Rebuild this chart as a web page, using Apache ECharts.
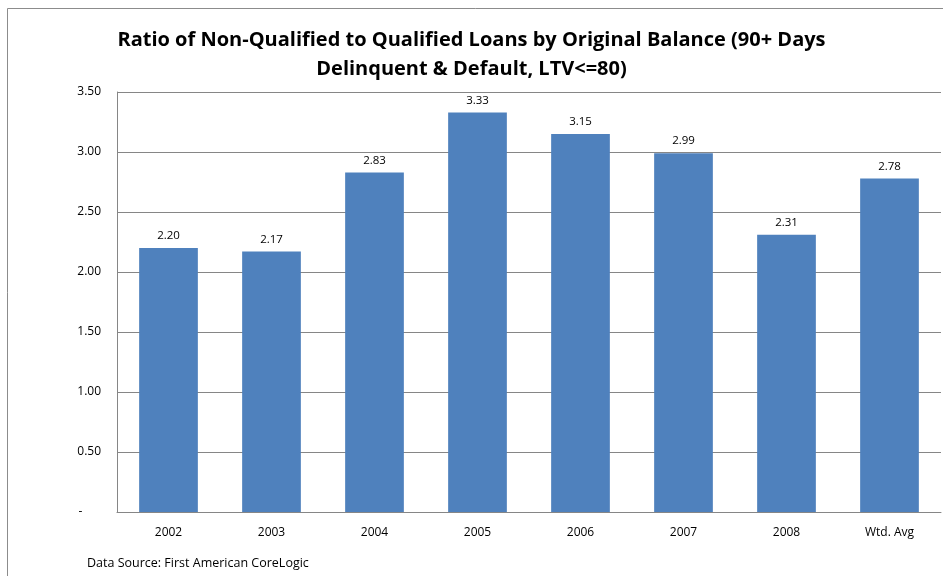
<!DOCTYPE html>
<html>
<head>
<meta charset="utf-8">
<script src="https://cdn.jsdelivr.net/npm/echarts@6/dist/echarts.min.js"></script>
<style>
  html, body { margin: 0; padding: 0; background: #fff; }
  #chart { width: 943px; height: 576px; }
</style>
</head>
<body>
<div id="chart"></div>
<script>
var categories = ["2002", "2003", "2004", "2005", "2006", "2007", "2008", "Wtd. Avg"];
var ratios = [2.20, 2.17, 2.83, 3.33, 3.15, 2.99, 2.31, 2.78];
var titleText = "Ratio of Non-Qualified to Qualified Loans by Original Balance (90+ Days\nDelinquent & Default, LTV<=80)";
var sourceText = "Data Source: First American CoreLogic";

var myChart = echarts.init(document.getElementById("chart"));
var fontColor = "#000";
var fontFamily = "'Open Sans', 'Noto Sans', sans-serif";

var option = {
  backgroundColor: "#fff",
  animation: false,
  title: {
    text: titleText,
    left: "center",
    top: 21,
    textStyle: {
      fontFamily: fontFamily,
      fontSize: 20,
      fontWeight: "bold",
      color: fontColor,
      lineHeight: 29,
      letterSpacing: -0.7
    }
  },
  grid: {
    left: 117,
    right: 2,
    top: 92,
    bottom: 64,
    containLabel: false
  },
  graphic: [
    {
      type: "rect",
      shape: { x: 7.5, y: 8.5, width: 960, height: 600 },
      style: { fill: "none", stroke: "#8c8c8c", lineWidth: 1 },
      silent: true
    },
    {
      type: "text",
      left: 87,
      top: 557,
      style: {
        text: sourceText,
        font: "12.5px " + fontFamily,
        fill: fontColor
      }
    }
  ],
  xAxis: {
    type: "category",
    data: categories,
    axisLine: { show: true, lineStyle: { color: "#868686", width: 1 } },
    axisTick: { show: false },
    axisLabel: {
      color: fontColor,
      fontFamily: fontFamily,
      fontSize: 12,
      margin: 15
    }
  },
  yAxis: {
    type: "value",
    min: 0,
    max: 3.5,
    interval: 0.5,
    axisLine: { show: true, lineStyle: { color: "#868686", width: 1 } },
    axisTick: { show: false },
    axisLabel: {
      color: fontColor,
      fontFamily: fontFamily,
      fontSize: 12,
      margin: 16,
      formatter: function (v) {
        return v === 0 ? "-      " : v.toFixed(2);
      }
    },
    splitLine: { show: true, lineStyle: { color: "#868686", width: 1 } }
  },
  series: [
    {
      type: "bar",
      data: ratios,
      barWidth: "57%",
      itemStyle: { color: "#4F81BD" },
      label: {
        show: true,
        position: "top",
        distance: 6,
        color: fontColor,
        fontFamily: fontFamily,
        fontSize: 11.5,
        formatter: function (p) { return p.value.toFixed(2); }
      }
    }
  ]
};

myChart.setOption(option);
window.addEventListener("resize", function () {
  myChart.resize();
});
</script>
</body>
</html>
